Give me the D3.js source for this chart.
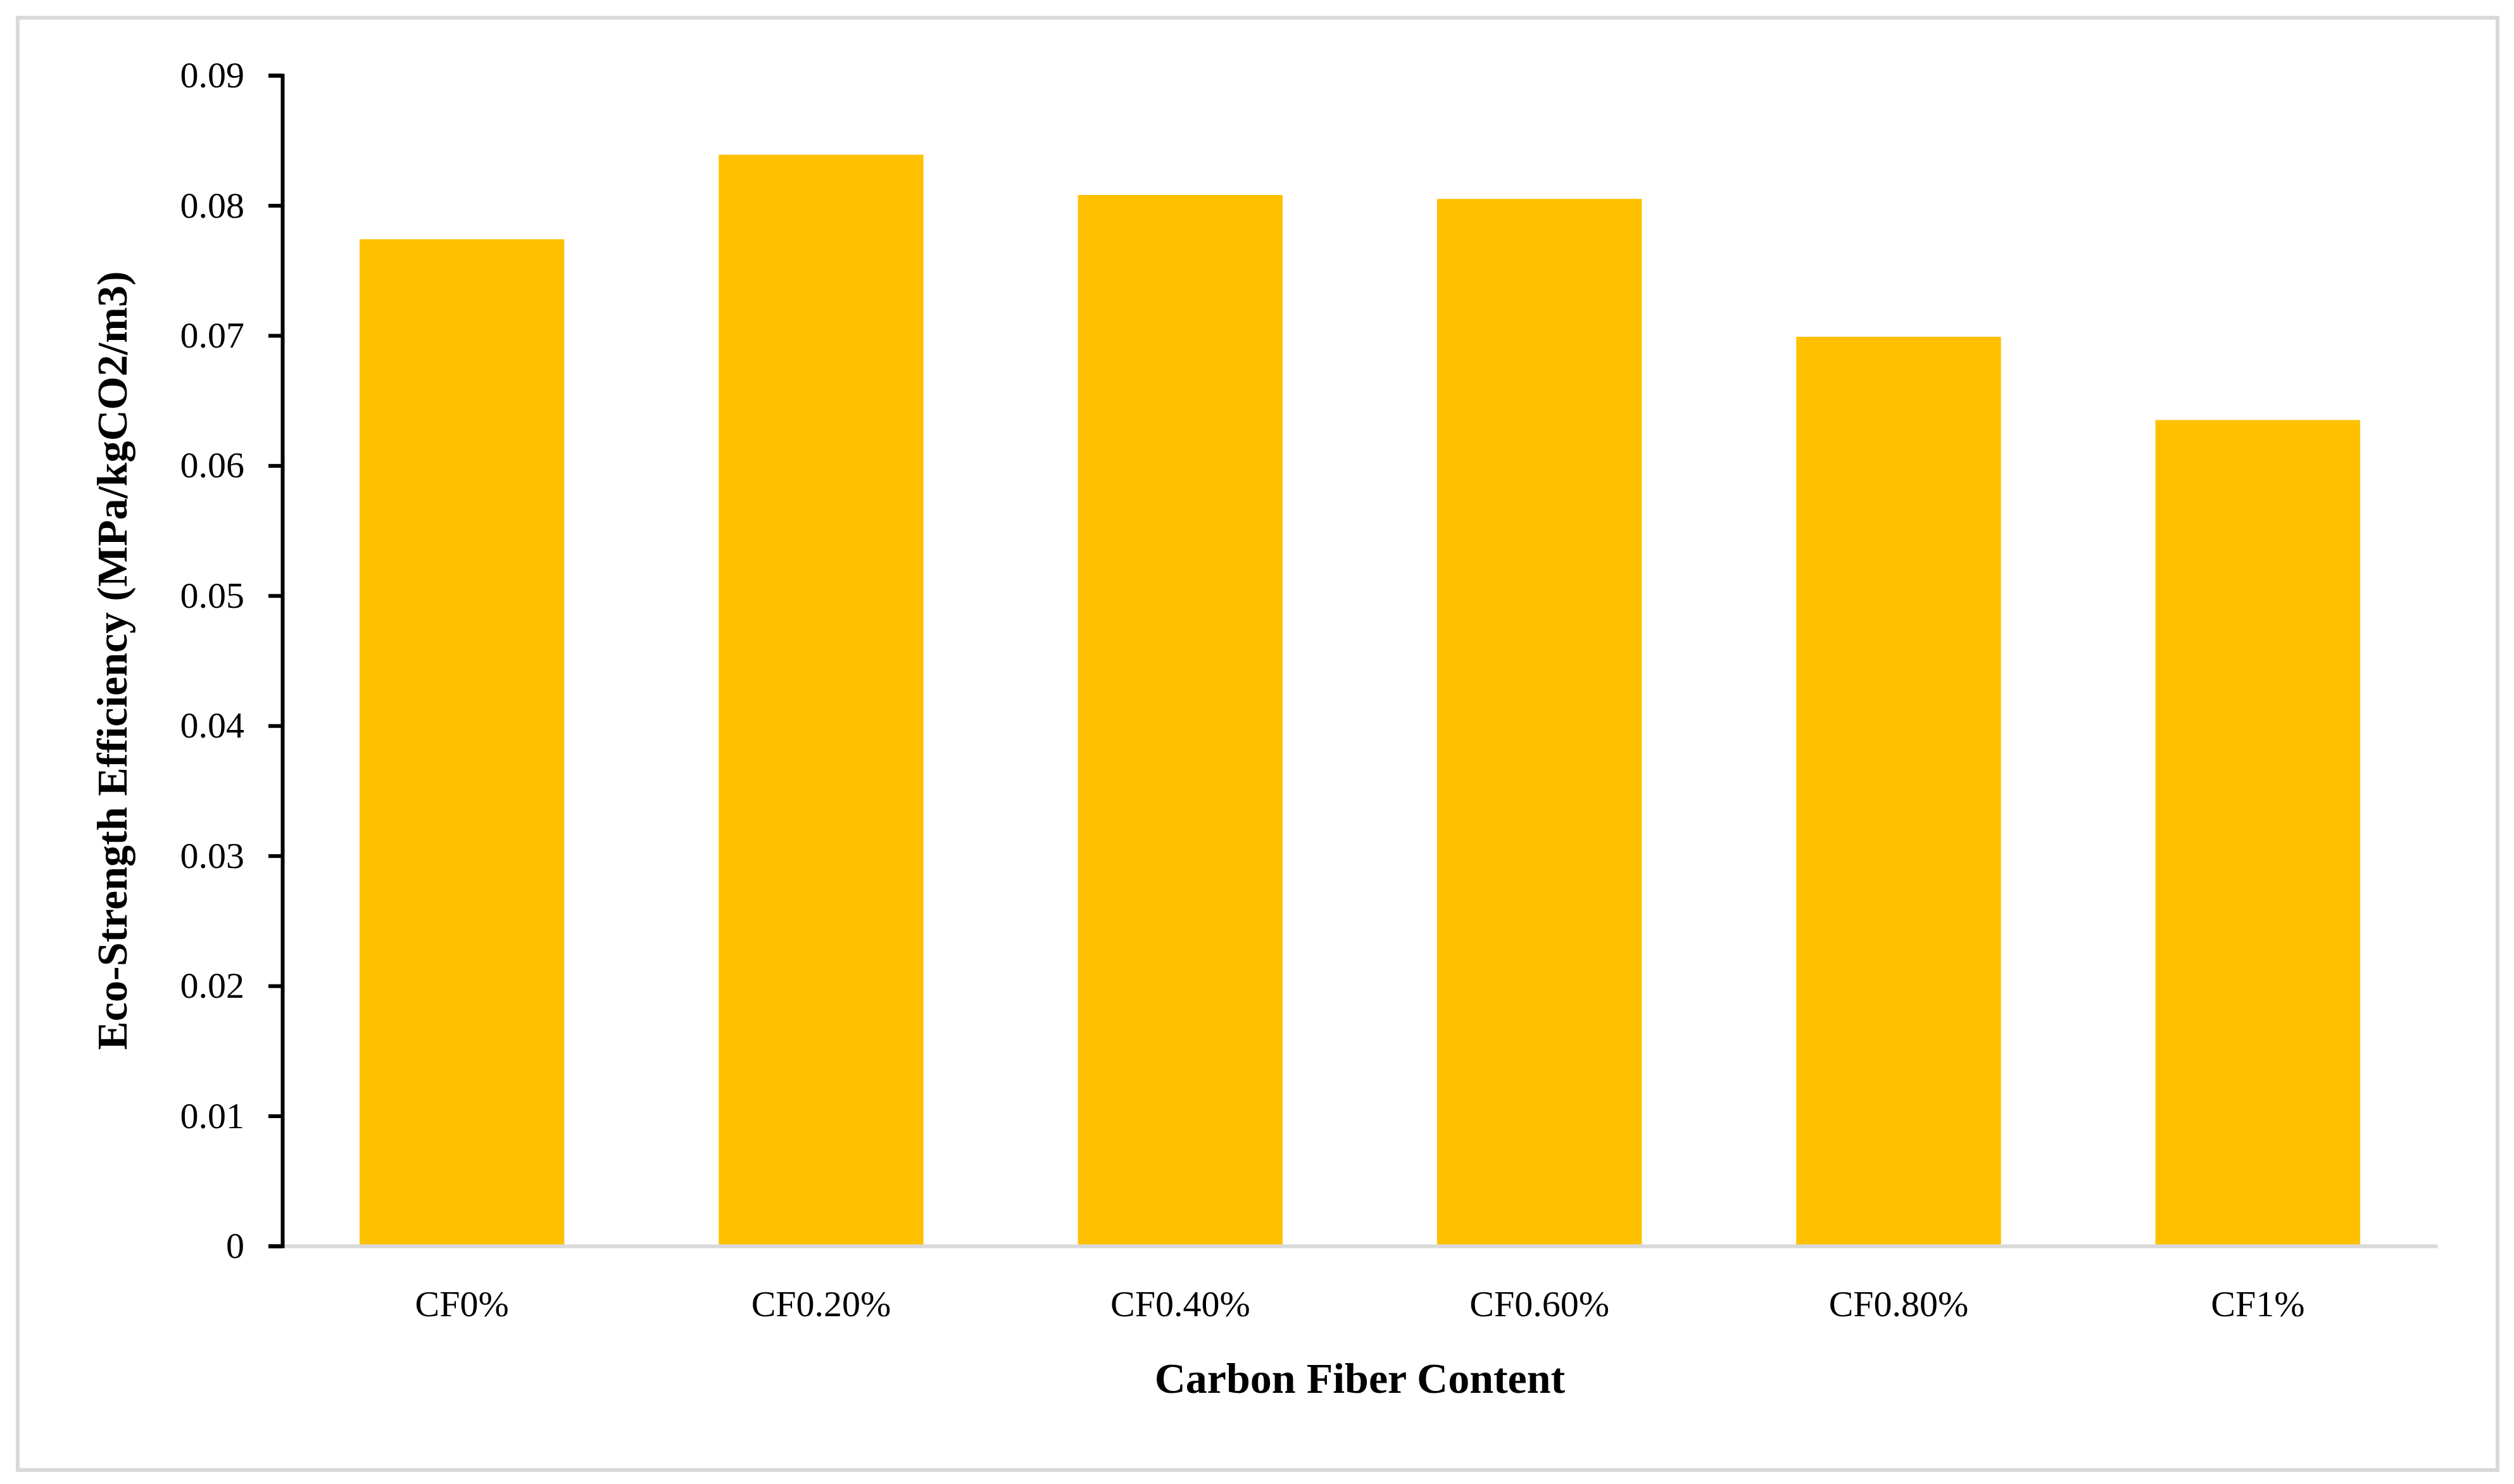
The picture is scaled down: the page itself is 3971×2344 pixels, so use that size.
<!DOCTYPE html>
<html><head><meta charset="utf-8">
<script src="https://cdn.jsdelivr.net/npm/d3@7"></script>
<style>body{margin:0;background:#fff}</style></head>
<body><svg id="c" width="3971" height="2344"></svg>
<script>
const categories=["CF0%","CF0.20%","CF0.40%","CF0.60%","CF0.80%","CF1%"];
const values=[0.0774,0.0839,0.0808,0.0805,0.0699,0.0635];
const yTicks=[0,0.01,0.02,0.03,0.04,0.05,0.06,0.07,0.08,0.09];
const yTickLabels=["0","0.01","0.02","0.03","0.04","0.05","0.06","0.07","0.08","0.09"];

const svg=d3.select("#c");
const font="'Liberation Serif','Times New Roman',serif";
svg.append("rect").attr("x",28).attr("y",28).attr("width",3917).attr("height",2294)
  .attr("fill","#fff").attr("stroke","#d9d9d9").attr("stroke-width",6);
const L=446,R=3850,T=119,B=1968;
const x=d3.scaleBand().domain(categories).range([L,R]).paddingInner(0.43).paddingOuter(0.215);
const y=d3.scaleLinear().domain([0,0.09]).range([B,T]);
svg.selectAll(".bar").data(values).join("rect")
  .attr("x",(d,i)=>x(categories[i])).attr("width",x.bandwidth())
  .attr("y",d=>y(d)).attr("height",d=>B-y(d)).attr("fill","#ffc000");
// x axis
const xa=svg.append("g").attr("transform",`translate(0,${B})`)
  .call(d3.axisBottom(x).tickSize(0).tickPadding(70));
xa.select(".domain").attr("stroke","#d9d9d9").attr("stroke-width",6);
xa.selectAll("text").attr("font-family",font).attr("font-size",58).attr("fill","#000");
// y axis
const ya=svg.append("g").attr("transform",`translate(${L},0)`)
  .call(d3.axisLeft(y).tickValues(yTicks).tickFormat((d,i)=>yTickLabels[i]).tickSize(22).tickSizeOuter(22).tickPadding(38));
ya.select(".domain").attr("stroke","#000").attr("stroke-width",6);
ya.selectAll(".tick line").attr("stroke","#000").attr("stroke-width",6);
ya.selectAll("text").attr("font-family",font).attr("font-size",58).attr("fill","#000");
svg.append("text").attr("x",(L+R)/2).attr("y",2200).attr("text-anchor","middle")
  .attr("font-family",font).attr("font-weight","bold").attr("font-size",68).text("Carbon Fiber Content");
svg.append("text").attr("transform",`translate(200,${(T+B)/2}) rotate(-90)`).attr("text-anchor","middle")
  .attr("font-family",font).attr("font-weight","bold").attr("font-size",68).text("Eco-Strength Efficiency (MPa/kgCO2/m3)");
</script></body></html>
